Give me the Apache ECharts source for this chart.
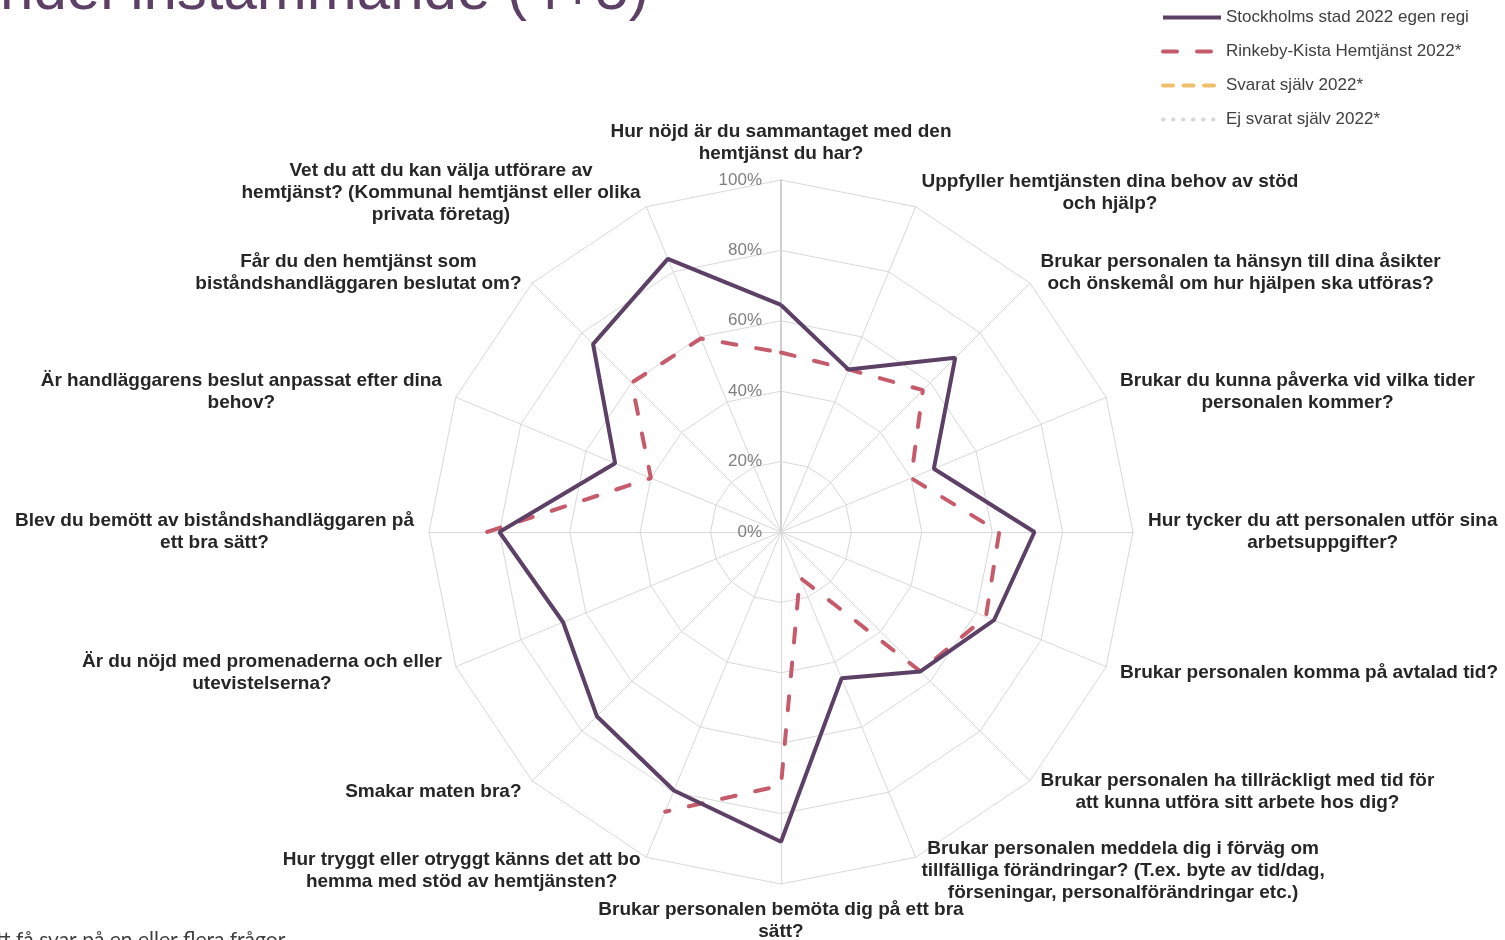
<!DOCTYPE html>
<html>
<head>
<meta charset="utf-8">
<title>Andel instämmande (4+5)</title>
<script src="https://cdn.jsdelivr.net/npm/echarts@6/dist/echarts.min.js"></script>
<style>
  html, body { margin: 0; padding: 0; background: #fff; }
  #chart { width: 1505px; height: 940px; }
</style>
</head>
<body>
<div id="chart"></div>
<script>
// questions, clockwise from the top
var questions = [
    'Hur nöjd är du sammantaget med den\nhemtjänst du har?',
    'Uppfyller hemtjänsten dina behov av stöd\noch hjälp?',
    'Brukar personalen ta hänsyn till dina åsikter\noch önskemål om hur hjälpen ska utföras?',
    'Brukar du kunna påverka vid vilka tider\npersonalen kommer?',
    'Hur tycker du att personalen utför sina\narbetsuppgifter?',
    'Brukar personalen komma på avtalad tid?',
    'Brukar personalen ha tillräckligt med tid för\natt kunna utföra sitt arbete hos dig?',
    'Brukar personalen meddela dig i förväg om\ntillfälliga förändringar? (T.ex. byte av tid/dag,\nförseningar, personalförändringar etc.)',
    'Brukar personalen bemöta dig på ett bra\nsätt?',
    'Hur tryggt eller otryggt känns det att bo\nhemma med stöd av hemtjänsten?',
    'Smakar maten bra?',
    'Är du nöjd med promenaderna och eller\nutevistelserna?',
    'Blev du bemött av biståndshandläggaren på\nett bra sätt?',
    'Är handläggarens beslut anpassat efter dina\nbehov?',
    'Får du den hemtjänst som\nbiståndshandläggaren beslutat om?',
    'Vet du att du kan välja utförare av\nhemtjänst? (Kommunal hemtjänst eller olika\nprivata företag)'
];

var seriesNames = [
    'Stockholms stad 2022 egen regi',
    'Rinkeby-Kista Hemtjänst 2022*',
    'Svarat själv 2022*',
    'Ej svarat själv 2022*'
];

// percent, null = no answer shown
var stockholm = [64.5, 50, 70, 47, 72, 65.5, 56, 45, 88, 79.5, 74, 67, 80, 51, 75.5, 84];
var rinkeby   = [51, 50, 57, 40, 62, 63, 56, 14, 72, 86, null, null, 83.5, 40, 60, 59.5];
var svaratSjalv = [];
var ejSvaratSjalv = [];

var scaleTicks = [0, 20, 40, 60, 80, 100];

var labelFont = 'Liberation Sans, Arial, sans-serif';

// [radius, angle index] pairs, closed back to the first question
function toPolar(values) {
    var out = [];
    for (var i = 0; i < values.length; i++) {
        out.push([values[i] == null ? '-' : values[i], i]);
    }
    if (values.length) out.push([values[0] == null ? '-' : values[0], values.length]);
    return out;
}

// radar runs counter-clockwise, so keep the first one on top and flip the rest
var radarOrder = [questions[0]].concat(questions.slice(1).reverse());

var indicators = radarOrder.map(function (q, i) {
    var ind = { name: q, min: 0, max: scaleTicks[scaleTicks.length - 1] };
    if (i === 0) {
        ind.axisLabel = {
            show: true,
            color: '#7f7f7f',
            fontSize: 17,
            fontFamily: labelFont,
            margin: 19,
            formatter: '{value}%'
        };
        ind.axisLine = { lineStyle: { color: '#d0d0d0', width: 2 } };
    }
    return ind;
});

var chart = echarts.init(document.getElementById('chart'));

var option = {
    backgroundColor: '#ffffff',
    animation: false,
    title: {
        text: 'Andel instämmande (4+5)',
        left: -45,
        top: -43,
        textStyle: {
            color: '#5c4065',
            fontSize: 60,
            fontWeight: 'normal',
            fontFamily: labelFont
        }
    },
    legend: {
        orient: 'vertical',
        left: 1156,
        top: 4,
        itemWidth: 58,
        itemHeight: 20,
        itemGap: 17,
        data: seriesNames,
        itemStyle: { opacity: 0 },
        lineStyle: { width: 4 },
        textStyle: {
            color: '#404040',
            fontSize: 17,
            fontFamily: labelFont
        }
    },
    radar: {
        center: [781, 532],
        radius: 352,
        startAngle: 90,
        shape: 'polygon',
        splitNumber: scaleTicks.length - 1,
        axisNameGap: 15,
        axisName: {
            color: '#262626',
            fontSize: 19,
            fontWeight: 'bold',
            fontFamily: labelFont,
            lineHeight: 22,
            formatter: function (name) {
                return name.split('\n').map(function (line) {
                    return '{c|' + line + '}';
                }).join('\n');
            },
            rich: {
                c: {
                    align: 'center',
                    color: '#262626',
                    fontSize: 19,
                    fontWeight: 'bold',
                    fontFamily: labelFont,
                    lineHeight: 22
                }
            }
        },
        axisLine: { lineStyle: { color: '#d9d9d9', width: 1 } },
        axisTick: { show: false },
        axisLabel: { show: false },
        splitLine: { lineStyle: { color: '#d9d9d9', width: 1 } },
        splitArea: { show: false },
        indicator: indicators
    },
    polar: {
        center: [781, 532],
        radius: 352
    },
    angleAxis: {
        type: 'value',
        min: 0,
        max: questions.length,
        startAngle: 90,
        clockwise: true,
        show: false
    },
    radiusAxis: {
        type: 'value',
        min: 0,
        max: scaleTicks[scaleTicks.length - 1],
        show: false
    },
    series: [
        {
            name: seriesNames[0],
            type: 'line',
            coordinateSystem: 'polar',
            symbol: 'none',
            z: 4,
            lineStyle: { color: '#5c4065', width: 4 },
            itemStyle: { color: '#5c4065' },
            data: toPolar(stockholm)
        },
        {
            name: seriesNames[1],
            type: 'line',
            coordinateSystem: 'polar',
            symbol: 'none',
            z: 3,
            lineStyle: { color: '#c65b6c', width: 4, type: [14, 20], cap: 'round' },
            itemStyle: { color: '#c65b6c' },
            data: toPolar(rinkeby)
        },
        {
            name: seriesNames[2],
            type: 'line',
            coordinateSystem: 'polar',
            symbol: 'none',
            lineStyle: { color: '#f0bf6c', width: 4, type: [10, 10.5], cap: 'round' },
            itemStyle: { color: '#f0bf6c' },
            data: toPolar(svaratSjalv)
        },
        {
            name: seriesNames[3],
            type: 'line',
            coordinateSystem: 'polar',
            symbol: 'none',
            lineStyle: { color: '#d9d9d9', width: 4, type: [0.5, 9.5], cap: 'round' },
            itemStyle: { color: '#d9d9d9' },
            data: toPolar(ejSvaratSjalv)
        }
    ],
    graphic: [
        {
            type: 'text',
            x: -14,
            y: 930,
            style: {
                text: 'att få svar på en eller flera frågor',
                fill: '#404040',
                font: '21px Lato, "Open Sans", sans-serif'
            }
        }
    ]
};

chart.setOption(option);

window.onresize = chart.resize;
</script>
</body>
</html>
